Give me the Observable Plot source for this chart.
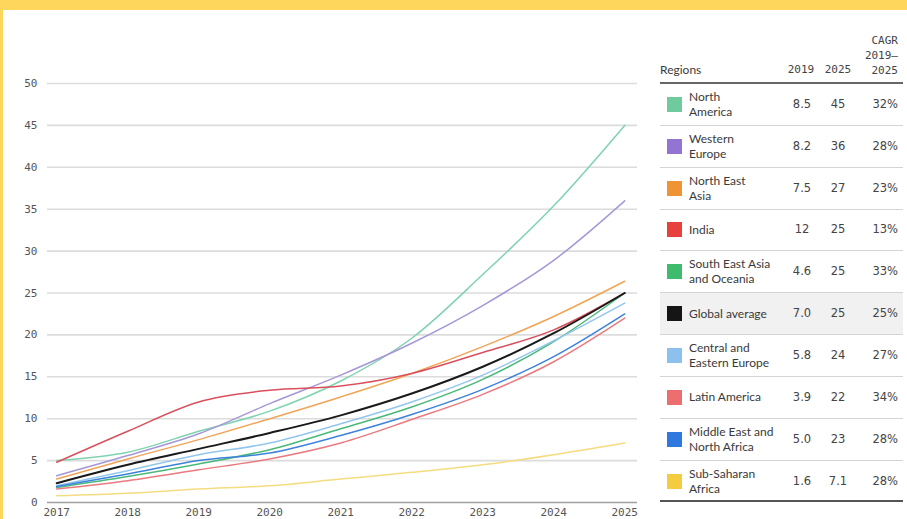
<!DOCTYPE html>
<html>
<head>
<meta charset="utf-8">
<script src="https://cdn.jsdelivr.net/npm/d3@7"></script>
<script src="https://cdn.jsdelivr.net/npm/@observablehq/plot@0.6"></script>
<style>
  html, body { margin: 0; padding: 0; }
  body { width: 907px; height: 519px; background: #ffd65c; overflow: hidden; position: relative; }
  #panel { position: absolute; left: 3px; top: 10px; width: 904px; height: 509px; background: #fff; overflow: hidden; }
  #chart { position: absolute; left: 0; top: 0; }
  .cell { position: absolute; font-family: "DejaVu Sans", sans-serif; font-size: 11.5px; color: #444; white-space: nowrap; }
  .hdr { font-family: "DejaVu Sans Mono", monospace; font-size: 11px; color: #444; }
  .lbl { font-family: Lato, "Open Sans", sans-serif; font-size: 12px; line-height: 15px; color: #3a3a3a; }
  .row { position: absolute; left: 657px; width: 243px; border-bottom: 1px solid #d4d4d4; box-sizing: border-box; }
  .sw { position: absolute; width: 15px; height: 15px; }
</style>
</head>
<body>
<div id="panel"><div id="chart"></div><div id="table"></div></div>
<script>
// ---- data ----
const years = [2017, 2018, 2019, 2020, 2021, 2022, 2023, 2024, 2025];
const yTicks = [0, 5, 10, 15, 20, 25, 30, 35, 40, 45, 50];

const regions = [
  "North America", "Western Europe", "North East Asia", "India",
  "South East Asia and Oceania", "Global average", "Central and Eastern Europe",
  "Latin America", "Middle East and North Africa", "Sub-Saharan Africa"
];
const tableLabels = [
  ["North", "America"], ["Western", "Europe"], ["North East", "Asia"], ["India"],
  ["South East Asia", "and Oceania"], ["Global average"], ["Central and", "Eastern Europe"],
  ["Latin America"], ["Middle East and", "North Africa"], ["Sub-Saharan", "Africa"]
];
const val2019 = ["8.5", "8.2", "7.5", "12", "4.6", "7.0", "5.8", "3.9", "5.0", "1.6"];
const val2025 = ["45", "36", "27", "25", "25", "25", "24", "22", "23", "7.1"];
const cagr = ["32%", "28%", "23%", "13%", "33%", "25%", "27%", "34%", "28%", "28%"];

const northAmerica   = [5.0, 6.0, 8.5, 10.9, 14.5, 19.6, 27.2, 35.4, 45.0];
const westernEurope  = [3.2, 5.6, 8.2, 11.8, 15.2, 19.0, 23.5, 28.9, 36.0];
const northEastAsia  = [2.8, 5.2, 7.5, 10.0, 12.6, 15.4, 18.6, 22.2, 26.4];
const india          = [4.8, 8.5, 12.0, 13.4, 13.9, 15.4, 17.9, 20.6, 25.0];
const southEastAsia  = [1.8, 3.1, 4.6, 6.3, 8.8, 11.4, 14.7, 19.2, 25.0];
const globalAverage  = [2.3, 4.5, 6.4, 8.3, 10.4, 13.0, 16.2, 20.2, 25.0];
const centralEastern = [2.0, 3.8, 5.7, 7.1, 9.4, 12.0, 15.2, 19.3, 23.8];
const latinAmerica   = [1.6, 2.6, 3.9, 5.2, 7.1, 9.9, 12.9, 16.8, 22.0];
const middleEast     = [1.9, 3.4, 5.0, 5.9, 8.0, 10.5, 13.5, 17.4, 22.5];
const subSaharan     = [0.8, 1.1, 1.6, 2.0, 2.8, 3.6, 4.5, 5.7, 7.1];

const seriesValues = [northAmerica, westernEurope, northEastAsia, india, southEastAsia,
  globalAverage, centralEastern, latinAmerica, middleEast, subSaharan];

const lineColors = ["#7fd3b0", "#a797d8", "#f0a456", "#d9505c", "#49b97a",
  "#1a1a1a", "#93c6ee", "#ea7a80", "#3d82dc", "#f4dc80"];
const swatchColors = ["#6fcb9e", "#9474d2", "#ee9434", "#e8403c", "#3fbb6e",
  "#151515", "#8cc0ee", "#ec6e6e", "#2f78de", "#f5cb40"];

// ---- chart ----
const rows = regions.flatMap((r, i) => years.map((y, j) => ({region: r, year: y, value: seriesValues[i][j]})));
const others = rows.filter(d => d.region !== "Global average");
const globalRows = rows.filter(d => d.region === "Global average");

const chart = Plot.plot({
  width: 640,
  height: 509,
  marginLeft: 44,
  marginRight: 6,
  marginTop: 73,
  marginBottom: 17,
  x: {domain: [2016.87, 2025.18], ticks: years, tickFormat: d => String(d), tickSize: 0, tickPadding: 6, label: null},
  y: {domain: [0, 50], ticks: yTicks, tickSize: 0, tickPadding: 10, label: null},
  color: {domain: regions, range: lineColors},
  style: {fontFamily: "'DejaVu Sans Mono', monospace", fontSize: "11px", color: "#555", background: "transparent", overflow: "visible"},
  marks: [
    Plot.ruleY(yTicks.filter(d => d > 0), {stroke: "#dcdcdc", strokeWidth: 1.6}),
    Plot.ruleY([0], {stroke: "#a0a0a0", strokeWidth: 1.6}),
    Plot.line(others, {x: "year", y: "value", z: "region", stroke: "region", strokeWidth: 1.5, curve: "monotone-x"}),
    Plot.line(globalRows, {x: "year", y: "value", stroke: "region", strokeWidth: 2, curve: "monotone-x"})
  ]
});
document.getElementById("chart").appendChild(chart);

// ---- table (legend) ----
const t = document.getElementById("table");
function cell(html, cls, style) {
  const d = document.createElement("div");
  d.className = "cell " + cls;
  d.innerHTML = html;
  Object.assign(d.style, style);
  t.appendChild(d);
  return d;
}
cell("Regions", "lbl", {left: "657px", top: "52px"});
cell("2019", "hdr", {left: "782px", top: "53px", width: "32px", textAlign: "center"});
cell("2025", "hdr", {left: "819px", top: "53px", width: "32px", textAlign: "center"});
cell("CAGR<br>2019–<br>2025", "hdr", {left: "840px", top: "23px", width: "55px", textAlign: "right", lineHeight: "15px"});

const hline = document.createElement("div");
Object.assign(hline.style, {position: "absolute", left: "657px", top: "72px", width: "243px", height: "2px", background: "#666"});
t.appendChild(hline);

const rowH = 41.85;
regions.forEach((r, i) => {
  const top = 74 + i * rowH;
  const row = document.createElement("div");
  row.className = "row";
  Object.assign(row.style, {top: top + "px", height: rowH + "px"});
  if (r === "Global average") row.style.background = "#f1f1f1";
  if (i === regions.length - 1) row.style.borderBottom = "2px solid #555";
  t.appendChild(row);
  const mid = top + rowH / 2;
  const sw = document.createElement("div");
  sw.className = "sw";
  Object.assign(sw.style, {left: "664px", top: (mid - 8) + "px", background: swatchColors[i]});
  t.appendChild(sw);
  const lines = tableLabels[i];
  cell(lines.join("<br>"), "lbl", {left: "686px", top: (mid - lines.length * 7.5 - 1) + "px"});
  cell(val2019[i], "", {left: "779px", top: (mid - 8) + "px", width: "40px", textAlign: "center"});
  cell(val2025[i], "", {left: "815px", top: (mid - 8) + "px", width: "40px", textAlign: "center"});
  cell(cagr[i], "", {left: "845px", top: (mid - 8) + "px", width: "50px", textAlign: "right"});
});
</script>
</body>
</html>
